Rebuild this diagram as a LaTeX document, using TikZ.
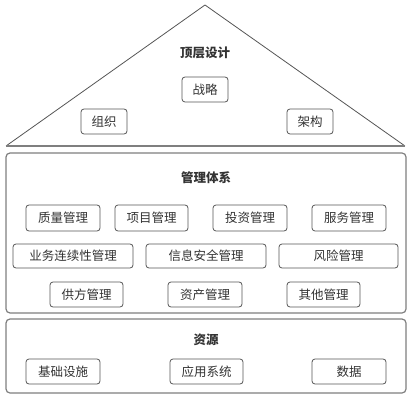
\documentclass[tikz,border=0pt]{standalone}
\usepackage{fontspec}
\newfontfamily\cjk{Noto Sans CJK SC}
\definecolor{txt}{HTML}{333333}
\definecolor{edge}{HTML}{555555}
\definecolor{frame}{HTML}{7F7F7F}
\begin{document}
\begin{tikzpicture}[x=1pt,y=-1pt,
  item/.style={draw=edge,line width=0.8pt,rounded corners=3pt,fill=white,font=\cjk\fontsize{12.5}{14}\selectfont,text=txt,inner sep=0pt},
  panel/.style={draw=frame,line width=1.2pt,rounded corners=4pt,fill=white},
  ttl/.style={font=\cjk\bfseries\fontsize{12.5}{14}\selectfont,text=txt,inner sep=0pt}]
\useasboundingbox (0,0) rectangle (414,403);
% roof
\draw[edge,line width=0.8pt] (6,146) -- (205,5) -- (405,146);
\draw[frame,line width=1.4pt] (6,146) -- (405,146);
\node[ttl] (top) at (205,53) {顶层设计};
\newcommand{\itembox}[6]{\node[item,minimum width=#4-#2,minimum height=#5-#3] (#1) at ({(#2+#4)/2},{(#3+#5)/2}) {#6};}
\itembox{zl}{182}{77}{228}{102}{战略}
\itembox{zz}{81}{109}{127}{134}{组织}
\itembox{jg}{287}{109}{333}{134}{架构}
% management panel
\node[panel,minimum width=400,minimum height=160] (mgmt) at (206,233) {};
\node[ttl] (mt) at (206,178) {管理体系};
\itembox{a1}{26}{205}{100}{231}{质量管理}
\itembox{a2}{115}{205}{188}{231}{项目管理}
\itembox{a3}{213}{205}{287}{231}{投资管理}
\itembox{a4}{312}{205}{386}{231}{服务管理}
\itembox{b1}{13}{244}{133}{268}{业务连续性管理}
\itembox{b2}{146}{244}{266}{268}{信息安全管理}
\itembox{b3}{279}{244}{398}{268}{风险管理}
\itembox{c1}{50}{282}{123}{307}{供方管理}
\itembox{c2}{168}{282}{242}{307}{资产管理}
\itembox{c3}{287}{282}{360}{307}{其他管理}
% resources panel
\node[panel,minimum width=400,minimum height=74] (res) at (206,356) {};
\node[ttl] (rt) at (206,340) {资源};
\itembox{d1}{26}{359}{100}{384}{基础设施}
\itembox{d2}{170}{359}{243}{384}{应用系统}
\itembox{d3}{312}{359}{386}{384}{数据}
\end{tikzpicture}
\end{document}
